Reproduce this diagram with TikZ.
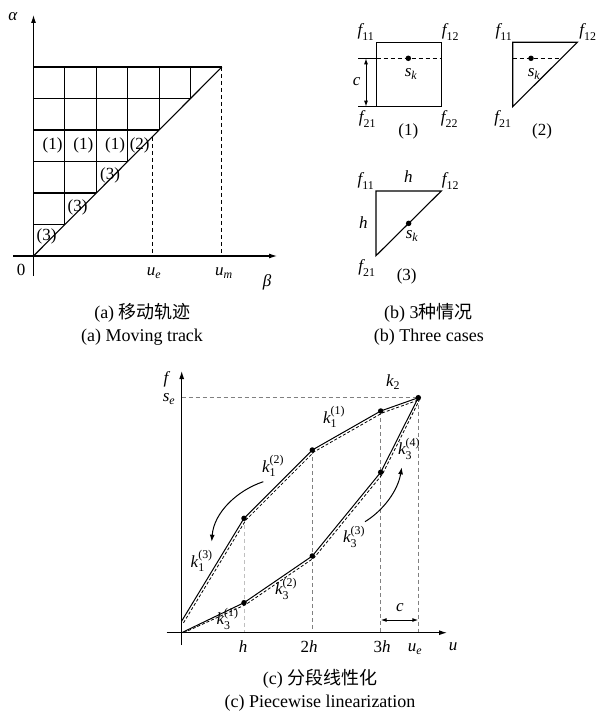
\documentclass[tikz,border=0pt]{standalone}
\usepackage{amsmath}
\usepackage{fontspec}
\setmainfont{Liberation Serif}
\newfontfamily\cjk{Noto Sans CJK SC}
\usetikzlibrary{arrows.meta, positioning, calc}

\newcommand{\kk}[2]{$\textit{k}_{\text{#1}}^{\text{(#2)}}$}
\newcommand{\isub}[2]{$\textit{#1}_{\text{#2}}$}
\newcommand{\itsub}[2]{$\textit{#1}_{\textit{#2}}$}

\begin{document}
\begin{tikzpicture}[
  x=1pt, y=-1pt,
  lbl/.style={font=\fontsize{17}{19}\selectfont, inner sep=0pt},
  captxt/.style={font=\fontsize{18}{20}\selectfont, inner sep=0pt},
  axisarrow/.style={-{Latex[length=8pt,width=5pt]}, line width=1.1pt},
  frame/.style={line width=1.1pt},
  guide/.style={dashed, line width=1pt, dash pattern=on 4pt off 3pt},
  gguide/.style={gray, line width=0.9pt, dash pattern=on 4pt off 3pt},
  lgguide/.style={gray!50, line width=0.9pt, dash pattern=on 4pt off 3pt},
  curve/.style={line width=1pt},
  fine/.style={line width=0.8pt, dash pattern=on 3pt off 2pt},
  dot/.style={circle, fill, inner sep=0pt, minimum size=5.5pt},
  dimarrow/.style={{Latex[length=6pt,width=4pt]}-{Latex[length=6pt,width=4pt]}, line width=1pt},
  bendarrow/.style={-{Latex[length=7pt,width=5pt]}, line width=1pt}
]
\useasboundingbox (0,0) rectangle (599,711);

% ---- (a) moving track
\coordinate (aO) at (33.5,256);
\begin{scope}[shift={(aO)}, x=31.4pt, y=31.5pt]
  \foreach \i in {1,...,6}
    \draw[frame] (0,\i) -- (\i,\i);
  \foreach \j in {1,...,5}
    \draw[frame] (\j,\j) -- (\j,6);
  \draw[frame] (0,0) -- (6,6);
  \coordinate (aTop) at (6,6);
  \coordinate (aMbot) at (6,0);
  \coordinate (aEtop) at (3.78,3.78);
  \coordinate (aEbot) at (3.78,0);
\end{scope}
\coordinate (aYs) at (33.5,276);
\coordinate (aYe) at (33.5,15);
\coordinate (aXs) at (13,256);
\coordinate (aXe) at (277,256);
\draw[axisarrow] (aYs) -- (aYe);
\draw[axisarrow] (aXs) -- (aXe);
\draw[guide] (aTop) -- (aMbot);
\draw[guide] (aEtop) -- (aEbot);

\node[lbl] (alpha) at (13,17) {\textit{α}};
\node[lbl] (beta) at (267,282) {\textit{β}};
\node[lbl] (zero) at (21,270) {0};
\node[lbl] (ue) at (154,273) {\itsub{u}{e}};
\node[lbl] (um) at (224,273) {\itsub{u}{m}};
\node[lbl] (c3a) at (46.5,236.7) {(3)};
\node[lbl] (c3b) at (77.5,207.5) {(3)};
\node[lbl] (c3c) at (110,175.5) {(3)};
\node[lbl] (c1a) at (52.5,145.8) {(1)};
\node[lbl] (c1b) at (83.3,145.8) {(1)};
\node[lbl] (c1c) at (115,145.8) {(1)};
\node[lbl] (c2a) at (139.7,145.8) {(2)};

% ---- (b) three cases
% case 1
\coordinate (b1tl) at (376.5,42.3);
\coordinate (b1br) at (441.3,106.7);
\coordinate (b1bl) at (376.5,106.7);
\coordinate (b1ml) at (358,58.3);
\coordinate (b1mm) at (376.5,58.3);
\coordinate (b1mr) at (441.3,58.3);
\coordinate (b1bx) at (358,106.7);
\draw[frame] (b1tl) rectangle (b1br);
\draw[frame] (b1ml) -- (b1mm);
\draw[frame] (b1bx) -- (b1bl);
\draw[guide] (b1mm) -- (b1mr);
\draw[dimarrow] (366,58.3) -- (366,106.7);
\node[dot] (b1s) at (408.3,58.3) {};
\node[lbl] (b1sk) at (411,74) {\itsub{s}{k}};
\node[lbl] (b1c) at (356.7,81.7) {\textit{c}};
\node[lbl] (b1f11) at (366,32) {\isub{f}{11}};
\node[lbl] (b1f12) at (450.5,32) {\isub{f}{12}};
\node[lbl] (b1f21) at (367.5,119) {\isub{f}{21}};
\node[lbl] (b1f22) at (449.5,119) {\isub{f}{22}};
\node[lbl] (b1n) at (408.3,131.7) {(1)};
% case 2
\coordinate (b2tl) at (512.7,42.3);
\coordinate (b2tr) at (577.3,42.3);
\coordinate (b2bl) at (512.7,106.7);
\coordinate (b2ml) at (512.7,58.3);
\coordinate (b2mr) at (561.3,58.3);
\draw[frame, line join=miter] (b2tl) -- (b2tr) -- (b2bl) -- cycle;
\draw[guide] (b2ml) -- (b2mr);
\node[dot] (b2s) at (531,58.3) {};
\node[lbl] (b2sk) at (534,74) {\itsub{s}{k}};
\node[lbl] (b2f11) at (504,32) {\isub{f}{11}};
\node[lbl] (b2f12) at (588,32) {\isub{f}{12}};
\node[lbl] (b2f21) at (503,119) {\isub{f}{21}};
\node[lbl] (b2n) at (542,131.7) {(2)};
% case 3
\coordinate (b3tl) at (376,191);
\coordinate (b3tr) at (441.3,191);
\coordinate (b3bl) at (376,255.7);
\draw[frame] (b3tl) -- (b3tr) -- (b3bl) -- cycle;
\node[dot] (b3s) at ($(b3tr)!0.5!(b3bl)$) {};
\node[lbl] (b3sk) at (412,236) {\itsub{s}{k}};
\node[lbl] (b3ht) at (408.3,176.7) {\textit{h}};
\node[lbl] (b3hl) at (363.3,222.3) {\textit{h}};
\node[lbl] (b3f11) at (366,181) {\isub{f}{11}};
\node[lbl] (b3f12) at (450.5,181) {\isub{f}{12}};
\node[lbl] (b3f21) at (367,268) {\isub{f}{21}};
\node[lbl] (b3n) at (406.7,276) {(3)};

% ---- (c) piecewise linearization
\coordinate (cYs) at (181.7,645);
\coordinate (cYe) at (181.7,371);
\coordinate (cXs) at (166.7,632.7);
\coordinate (cXe) at (447,632.7);
\coordinate (cO) at (181.7,632.7);
\coordinate (cS) at (181.7,397.7);
\coordinate (u0) at (181.7,621);
\coordinate (u1) at (244,518.3);
\coordinate (u2) at (312.3,450);
\coordinate (u3) at (380.7,411);
\coordinate (ue) at (418.3,397.7);
\coordinate (l1) at (244,602.7);
\coordinate (l2) at (312.3,556);
\coordinate (l3) at (380.7,472.3);

\draw[lgguide] (u1) -- (u1 |- cO);
\draw[gguide] (u2) -- (u2 |- cO);
\draw[gguide] (u3) -- (u3 |- cO);
\draw[gguide] (ue) -- (ue |- cO);
\draw[gguide] (cS) -- (ue);

% dashed true curves beside the chords
\draw[fine] ($(u0)+(1.8,1.8)$) -- ($(u1)+(1.8,1.8)$) -- ($(u2)+(1.8,1.8)$)
  -- ($(u3)+(1.8,1.8)$) -- ($(ue)+(1,2)$);
\draw[fine] ($(cO)+(2,0)$) -- ($(l1)+(1.5,2)$) -- ($(l2)+(1.8,1.8)$)
  -- ($(l3)+(1.8,1.8)$) -- ($(ue)+(1,2.5)$);
\draw[curve] (u0) -- (u1) -- (u2) -- (u3) -- (ue);
\draw[curve] (cO) -- (l1) -- (l2) -- (l3) -- (ue);
\foreach \p in {u1,u2,u3,ue,l1,l2,l3}
  \node[dot] at (\p) {};

\draw[axisarrow] (cYs) -- (cYe);
\draw[axisarrow] (cXs) -- (cXe);
\draw[dimarrow] (u3 |- 0,620) -- (ue |- 0,620);

\coordinate (ar1s) at (263.3,481.7);
\coordinate (ar1e) at (211.7,541.7);
\coordinate (ar2s) at (365,521.7);
\coordinate (ar2e) at (401.7,467.3);
\draw[bendarrow] (ar1s) .. controls (238,490) and (214,512) .. (ar1e);
\draw[bendarrow] (ar2s) .. controls (384,510) and (398,490) .. (ar2e);

\node[lbl] (cf) at (167,379) {\textit{f}};
\node[lbl] (cse) at (169,399) {\itsub{s}{e}};
\node[lbl] (ck2) at (393,382) {\isub{k}{2}};
\node[lbl] (k11) at (334,417) {\kk{1}{1}};
\node[lbl] (k12) at (273,466) {\kk{1}{2}};
\node[lbl] (k13) at (201.7,561) {\kk{1}{3}};
\node[lbl] (k34) at (409,449) {\kk{3}{4}};
\node[lbl] (k33) at (354,537) {\kk{3}{3}};
\node[lbl] (k32) at (286,589) {\kk{3}{2}};
\node[lbl] (k31) at (227.5,619) {\kk{3}{1}};
\node[lbl] (ch) at (243,647) {\textit{h}};
\node[lbl] (c2h) at (309,647) {2\textit{h}};
\node[lbl] (c3h) at (382,647) {3\textit{h}};
\node[lbl] (cue) at (415,649) {\itsub{u}{e}};
\node[lbl] (cu) at (453,647) {\textit{u}};
\node[lbl] (cc) at (400,608) {\textit{c}};

% ---- captions
\node[captxt] (capa) at (142.5,312.5) {(a) {\cjk 移动轨迹}};
\node[captxt] (capae) at (142,336.7) {(a) Moving track};
\node[captxt] (capb) at (428.3,312.7) {(b) 3{\cjk 种情况}};
\node[captxt] (capbe) at (428.8,336.7) {(b) Three cases};
\node[captxt] (capc) at (320,678.3) {(c) {\cjk 分段线性化}};
\node[captxt] (capce) at (320,703.3) {(c) Piecewise linearization};
\end{tikzpicture}
\end{document}
